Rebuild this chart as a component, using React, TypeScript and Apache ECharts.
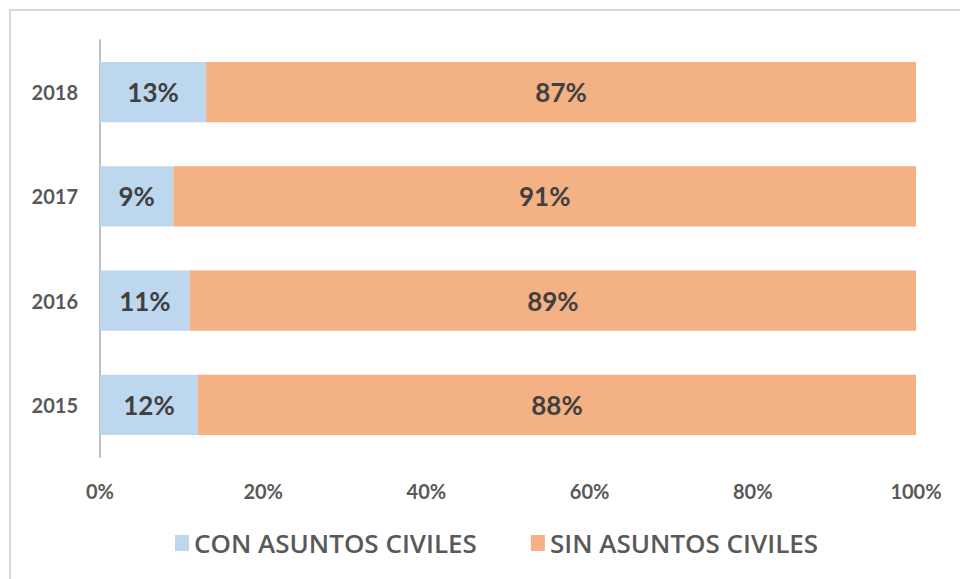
import React, { useEffect, useRef } from "react";
import * as echarts from "echarts";

const years = ["2015", "2016", "2017", "2018"];
const conAsuntos = [12, 11, 9, 13];
const sinAsuntos = [88, 89, 91, 87];
const seriesNames = ["CON ASUNTOS CIVILES", "SIN ASUNTOS CIVILES"];

export default function App() {
  const ref = useRef<HTMLDivElement>(null);
  useEffect(() => {
    const chart = echarts.init(ref.current!, null, { renderer: "svg" });
    const font = "Lato, 'Open Sans', sans-serif";
    const legendFont = "'Open Sans', Lato, sans-serif";
    chart.setOption({
      animation: false,
      backgroundColor: "#ffffff",
      textStyle: { fontFamily: font },
      graphic: [
        {
          type: "rect",
          shape: { x: 10, y: 10, width: 1000, height: 1000 },
          style: { fill: "none", stroke: "#d9d9d9", lineWidth: 2 },
          silent: true,
        },
      ],
      grid: { left: 100, right: 44, top: 40, bottom: 122 },
      xAxis: {
        type: "value",
        min: 0,
        max: 100,
        interval: 20,
        axisLine: { show: false },
        axisTick: { show: false },
        splitLine: { show: false },
        axisLabel: {
          formatter: "{value}%",
          color: "#595959",
          fontSize: 20,
          fontWeight: "bold",
          fontFamily: font,
          margin: 24,
        },
      },
      yAxis: {
        type: "category",
        data: years,
        axisLine: { show: true, lineStyle: { color: "#bfbfbf", width: 2 } },
        axisTick: { show: false },
        axisLabel: {
          color: "#595959",
          fontSize: 20,
          fontWeight: "bold",
          fontFamily: font,
          margin: 22,
        },
      },
      legend: {
        bottom: 18,
        left: 170,
        itemWidth: 14,
        itemHeight: 16,
        itemGap: 54,
        icon: "rect",
        textStyle: { color: "#595959", fontSize: 26, fontWeight: 600, fontFamily: legendFont },
        data: seriesNames,
      },
      series: [
        {
          name: seriesNames[0],
          type: "bar",
          stack: "total",
          data: conAsuntos,
          barCategoryGap: "42%",
          itemStyle: { color: "#BDD7EE" },
          label: {
            show: true,
            position: "inside",
            formatter: "{c}%",
            color: "#404040",
            fontSize: 26,
            fontWeight: "bold",
            fontFamily: font,
          },
        },
        {
          name: seriesNames[1],
          type: "bar",
          stack: "total",
          data: sinAsuntos,
          barCategoryGap: "42%",
          itemStyle: { color: "#F4B183" },
          label: {
            show: true,
            position: "inside",
            formatter: "{c}%",
            color: "#404040",
            fontSize: 26,
            fontWeight: "bold",
            fontFamily: font,
          },
        },
      ],
    });
    return () => chart.dispose();
  }, []);
  return (
    <div
      ref={ref}
      style={{ position: "fixed", left: 0, top: 0, width: 960, height: 579 }}
    />
  );
}
